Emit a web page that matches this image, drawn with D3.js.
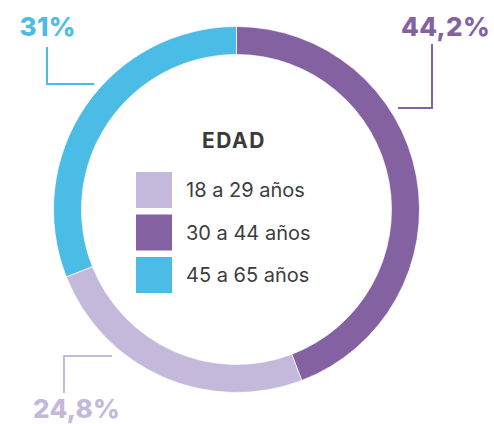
<!DOCTYPE html>
<html>
<head>
<meta charset="utf-8">
<script src="https://cdn.jsdelivr.net/npm/d3@7"></script>
<style>
  body { margin: 0; background: #fff; }
  svg { display: block; }
</style>
</head>
<body>
<div id="chart"></div>
<script>
const width = 494;
const height = 424;

// datos
const categories = ["30 a 44 años", "18 a 29 años", "45 a 65 años"];
const values = [44.2, 24.8, 31];
const valueLabels = ["44,2%", "24,8%", "31%"];
const legendOrder = ["18 a 29 años", "30 a 44 años", "45 a 65 años"];
const colors = ["#8462a2", "#c4b9da", "#4bbce6"];

const cx = 236.5;
const cy = 209.5;
const outerR = 183;
const innerR = 155;

const svg = d3.select("#chart").append("svg")
  .attr("width", width)
  .attr("height", height);

const color = d3.scaleOrdinal().domain(categories).range(colors);

const pie = d3.pie().sort(null).value(d => d.value);
const arc = d3.arc().innerRadius(innerR).outerRadius(outerR);

const data = categories.map((c, i) => ({ cat: c, value: values[i], label: valueLabels[i] }));

const g = svg.append("g").attr("transform", `translate(${cx}, ${cy})`);

g.selectAll("path")
  .data(pie(data))
  .join("path")
    .attr("d", arc)
    .attr("fill", d => color(d.data.cat))
    .attr("stroke", "#fff")
    .attr("stroke-width", 0.7);

// etiquetas con linea guia (posicion relativa al centro)
const callouts = [
  { cat: "30 a 44 años", text: [253.5, -173.5], anchor: "end", line: [[161.5, -101.5], [195.5, -101.5], [195.5, -165.5]] },
  { cat: "18 a 29 años", text: [-203.5, 208], anchor: "start", line: [[-124.5, 146.5], [-172.5, 146.5], [-172.5, 183.5]] },
  { cat: "45 a 65 años", text: [-217, -173.5], anchor: "start", line: [[-142.5, -125.5], [-189.5, -125.5], [-189.5, -162.5]] }
];

callouts.forEach(c => {
  const d = data.find(x => x.cat === c.cat);
  g.append("path")
    .attr("d", d3.line()(c.line))
    .attr("fill", "none")
    .attr("stroke", color(c.cat))
    .attr("stroke-width", 2);
  g.append("text")
    .attr("x", c.text[0])
    .attr("y", c.text[1])
    .attr("text-anchor", c.anchor)
    .attr("fill", color(c.cat))
    .style("font-family", "Inter, sans-serif")
    .style("font-weight", 800)
    .style("font-size", "26px")
    .style("letter-spacing", "0.3px")
    .text(d.label);
});

// leyenda
svg.append("text")
  .attr("x", 234)
  .attr("y", 147.5)
  .attr("text-anchor", "middle")
  .attr("fill", "#3a3a3a")
  .style("font-family", "Inter, sans-serif")
  .style("font-weight", 700)
  .style("font-size", "21px")
  .style("letter-spacing", "1.5px")
  .text("EDAD");

const legend = svg.append("g").attr("transform", "translate(136, 172)");

const row = legend.selectAll("g")
  .data(legendOrder)
  .join("g")
    .attr("transform", (d, i) => `translate(0, ${i * 42.5})`);

row.append("rect")
  .attr("width", 36)
  .attr("height", 36)
  .attr("fill", d => color(d));

row.append("text")
  .attr("x", 50)
  .attr("y", 25)
  .attr("fill", "#3d3d3d")
  .style("font-family", "Inter, sans-serif")
  .style("font-size", "20px")
  .text(d => d);
</script>
</body>
</html>
